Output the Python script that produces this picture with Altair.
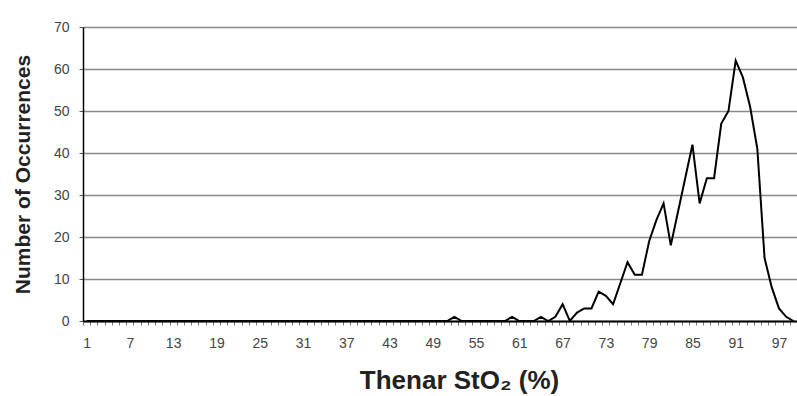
import altair as alt
import pandas as pd

# StO2 values (categories 1..99)
sto2 = list(range(1, 100))

# Number of occurrences for each StO2 value
occ_low = [0] * 51  # 1..51
occ_high = [
    1, 0, 0, 0, 0, 0, 0, 0,      # 52..59
    1, 0, 0, 0, 1, 0, 1, 4,      # 60..67
    0, 2, 3, 3, 7, 6, 4, 9,      # 68..75
    14, 11, 11, 19, 24, 28, 18, 26,  # 76..83
    34, 42, 28, 34, 34, 47, 50, 62,  # 84..91
    58, 51, 41, 15, 8, 3, 1, 0,      # 92..99
]
occurrences = occ_low + occ_high

y_ticks = [0, 10, 20, 30, 40, 50, 60, 70]

df = pd.DataFrame({"sto2": sto2, "count": occurrences})

FONT = "Liberation Sans"
band = 714 / 99.0

chart = alt.Chart(df).mark_line(color="black", strokeWidth=2).encode(
    x=alt.X(
        "sto2:Q",
        scale=alt.Scale(domain=[0.5, 99.5], nice=False, zero=False),
        axis=alt.Axis(
            values=sto2,
            labelExpr="(datum.value - 1) % 6 == 0 ? datum.label : ''",
            labelOverlap=False,
            labelFlush=False,
            tickOffset=-band / 2,
            labelOffset=band / 2,
            tickSize=4,
            tickColor="#777777",
            tickWidth=1,
            domainColor="black",
            domainWidth=2,
            grid=False,
            labelFont=FONT,
            labelFontSize=14,
            labelColor="#444444",
            labelPadding=11,
            title="Thenar StO\u2082 (%)",
            titleFont=FONT,
            titleFontSize=26,
            titleFontWeight="bold",
            titleColor="#222222",
            titleX=376,
            titleY=59,
            titleBaseline="middle",
            titleAlign="center",
        ),
    ),
    y=alt.Y(
        "count:Q",
        scale=alt.Scale(domain=[0, 70], nice=False),
        axis=alt.Axis(
            values=y_ticks,
            grid=True,
            gridColor="#888888",
            gridWidth=1.5,
            domainColor="black",
            domainWidth=1.5,
            tickSize=4,
            tickColor="#555555",
            labelFont=FONT,
            labelFontSize=14,
            labelColor="#444444",
            labelPadding=10,
            title="Number of Occurrences",
            titleFont=FONT,
            titleFontSize=21,
            titleFontWeight="bold",
            titleColor="#222222",
            titleX=-60,
            titleY=147,
            titleBaseline="middle",
            titleAlign="center",
            titleAngle=270,
        ),
    ),
).properties(
    width=714,
    height=294,
    autosize=alt.AutoSizeParams(type="none"),
    padding={"left": 83, "top": 27, "right": 0, "bottom": 75},
).configure_view(stroke="transparent").configure(background="white")

chart.save("out.html", embed_options={"renderer": "svg", "actions": False})
